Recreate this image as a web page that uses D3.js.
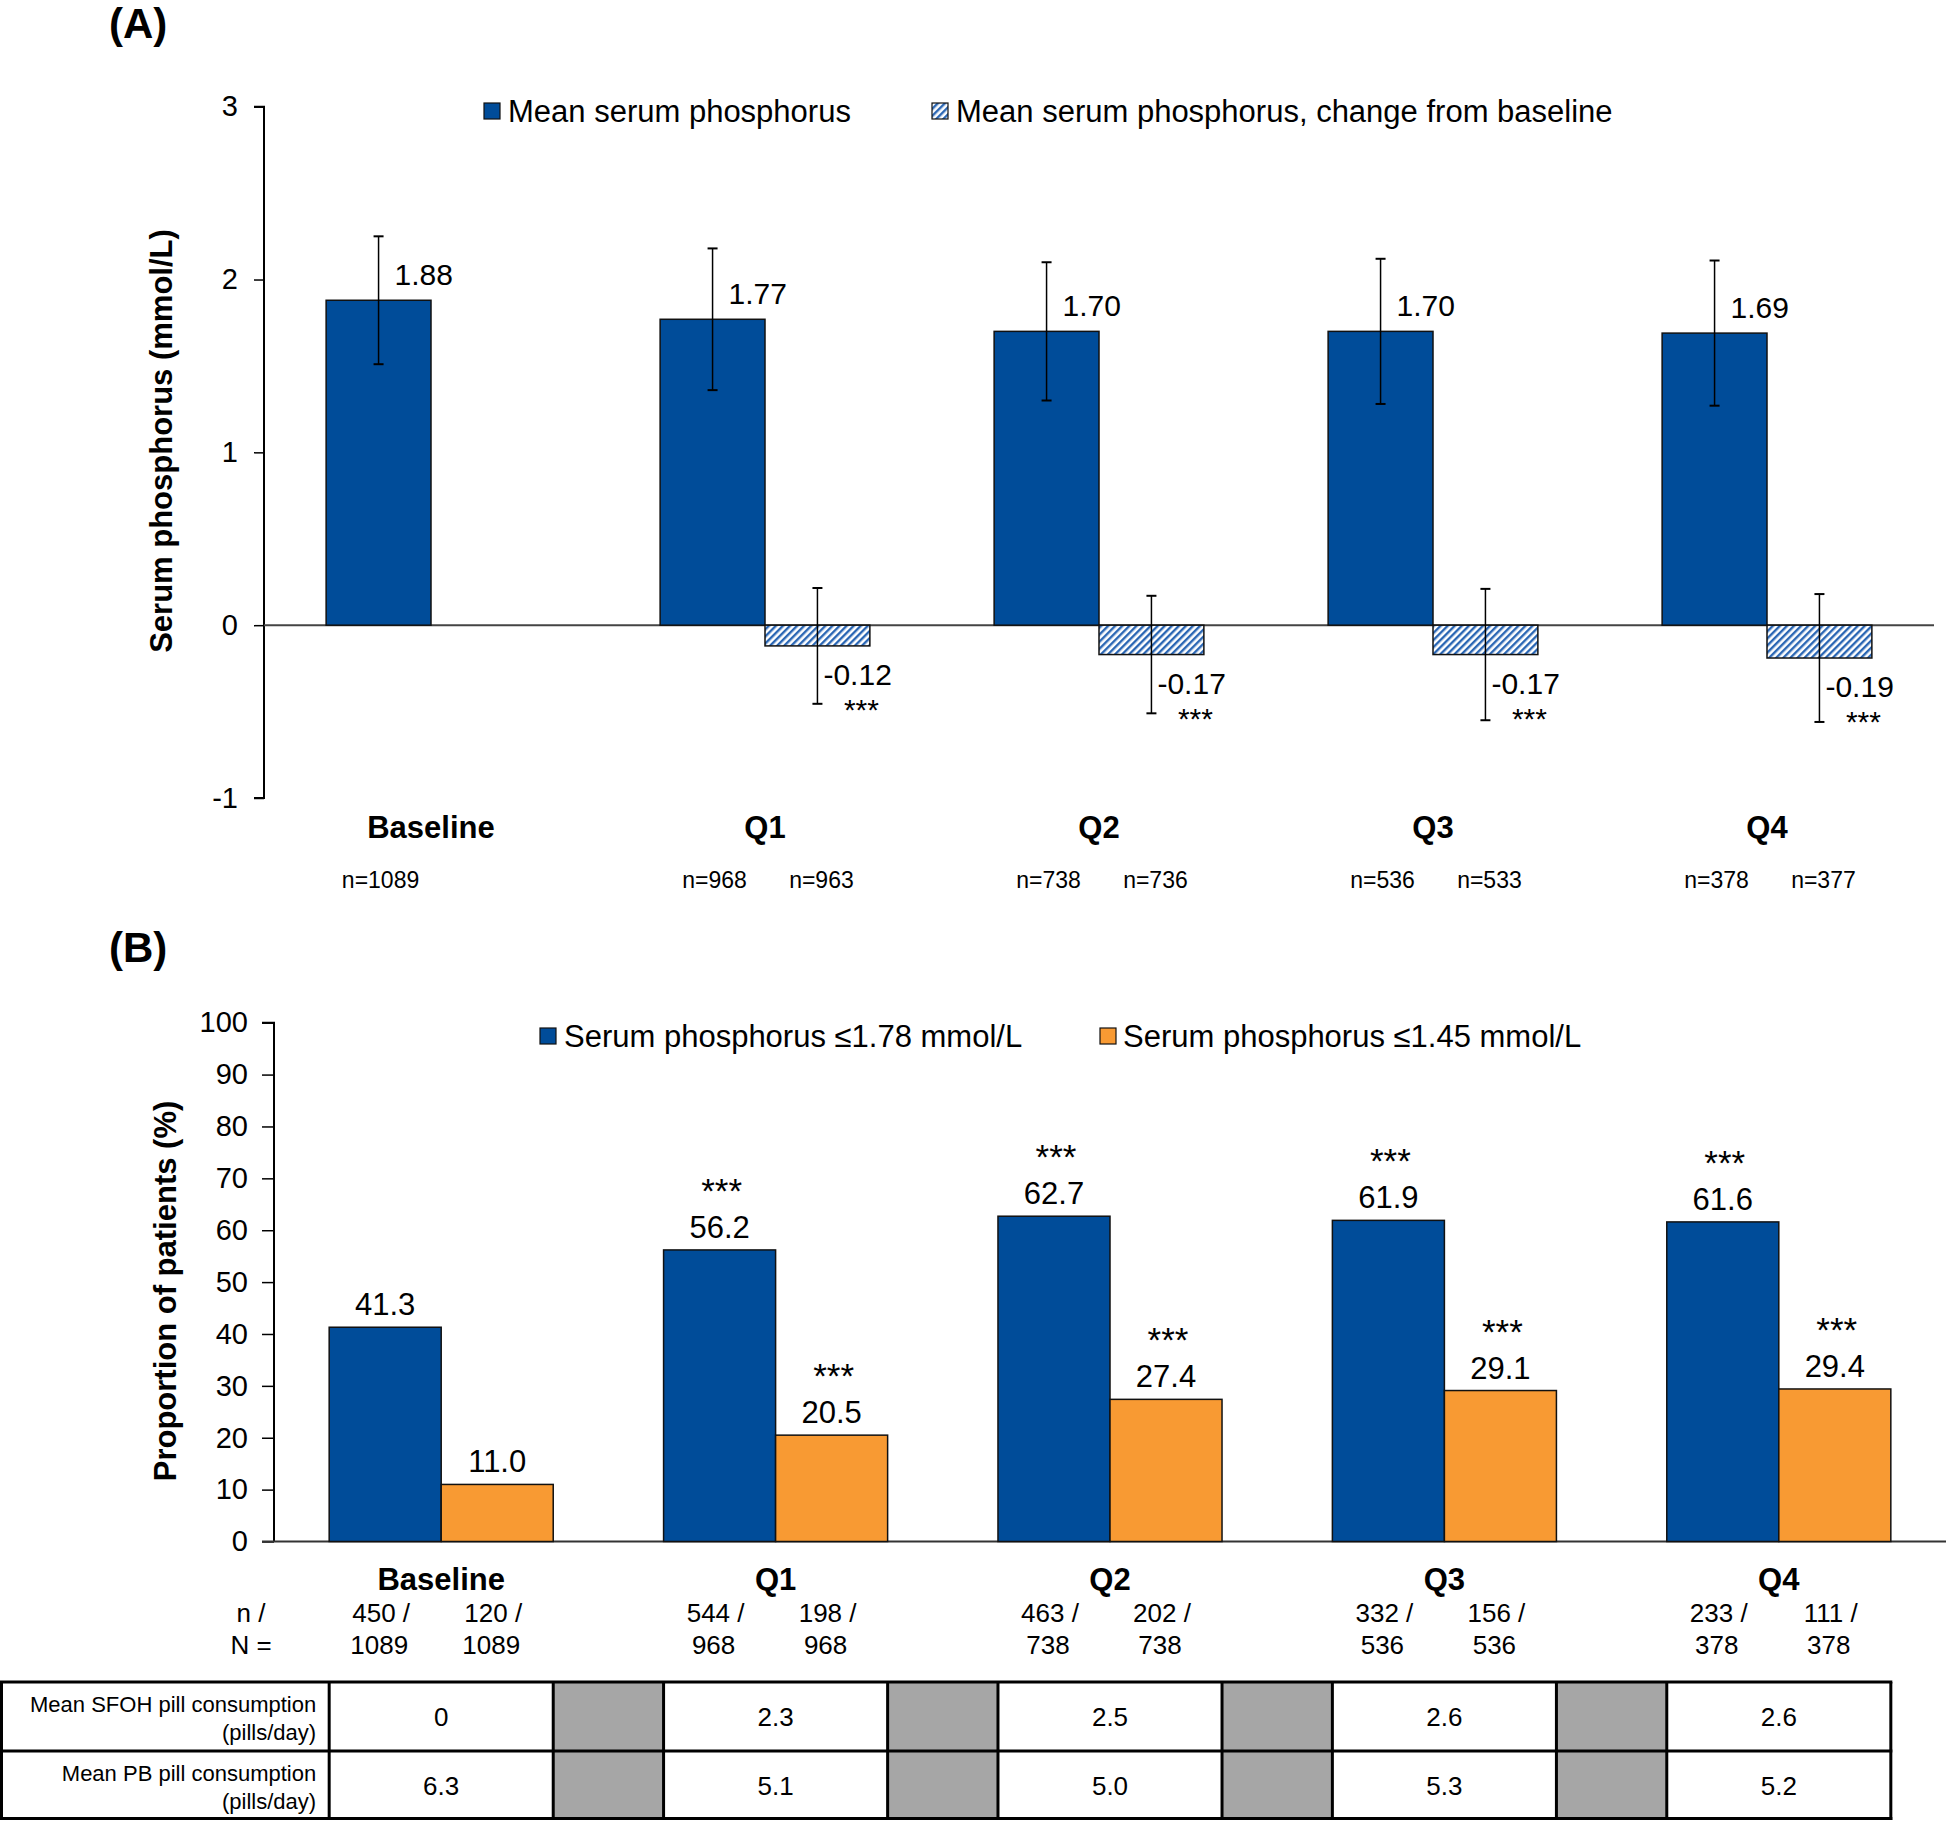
<!DOCTYPE html>
<html><head><meta charset="utf-8">
<script src="https://cdn.jsdelivr.net/npm/d3@7"></script>
<style>
html,body{margin:0;padding:0;background:#fff;}
svg{display:block;font-family:'Liberation Sans',Arial,sans-serif;}
</style></head>
<body>
<svg id="chart" width="1946" height="1822"></svg>
<script>
// ---------- DATA ----------
const categories = ["Baseline", "Q1", "Q2", "Q3", "Q4"];
// Panel A
const meanP = [1.88, 1.77, 1.70, 1.70, 1.69];
const meanPsd = [0.37, 0.41, 0.40, 0.42, 0.42];
const changeP = [null, -0.12, -0.17, -0.17, -0.19];
const changeSd = [null, 0.335, 0.34, 0.38, 0.37];
const nMean = ["n=1089", "n=968", "n=738", "n=536", "n=378"];
const nChange = [null, "n=963", "n=736", "n=533", "n=377"];
const yTicksA = [-1, 0, 1, 2, 3];
const legendA = ["Mean serum phosphorus", "Mean serum phosphorus, change from baseline"];
// Panel B
const prop178 = [41.3, 56.2, 62.7, 61.9, 61.6];
const prop145 = [11.0, 20.5, 27.4, 29.1, 29.4];
const sig178 = [false, true, true, true, true];
const sig145 = [false, true, true, true, true];
const n178 = [450, 544, 463, 332, 233];
const n145 = [120, 198, 202, 156, 111];
const Ntot = [1089, 968, 738, 536, 378];
const yTicksB = [0, 10, 20, 30, 40, 50, 60, 70, 80, 90, 100];
const legendB = ["Serum phosphorus \u22641.78 mmol/L", "Serum phosphorus \u22641.45 mmol/L"];
// Table
const tableRows = [["Mean SFOH pill consumption", "(pills/day)"], ["Mean PB pill consumption", "(pills/day)"]];
const sfoh = ["0", "2.3", "2.5", "2.6", "2.6"];
const pb = ["6.3", "5.1", "5.0", "5.3", "5.2"];

// ---------- STYLE ----------
const BLUE = "#004c99", ORANGE = "#f89a33", GRAY = "#a6a6a6";
const svg = d3.select("#chart");
const defs = svg.append("defs");
const pat = defs.append("pattern").attr("id", "hatch").attr("patternUnits", "userSpaceOnUse")
  .attr("width", 5).attr("height", 5).attr("patternTransform", "rotate(45)");
pat.append("rect").attr("width", 5).attr("height", 5).attr("fill", "#fff");
pat.append("rect").attr("width", 2.4).attr("height", 5).attr("fill", "#2a66b4");

// ================= PANEL A =================
const xA = d3.scaleBand().domain(categories).range([264, 1934]);
const bwA = xA.bandwidth();
const subA = d3.scaleBand().domain([0, 1]).range([bwA * 0.186, bwA * 0.814]);
const yA = d3.scaleLinear().domain([-1, 3]).range([798, 106.7]);

svg.append("text").attr("x", 109).attr("y", 38).attr("font-size", 42).attr("font-weight", "bold").text("(A)");

const gA = svg.append("g");
const axA = gA.append("g").attr("transform", "translate(264,0)")
  .call(d3.axisLeft(yA).tickValues(yTicksA).tickSize(10).tickPadding(16).tickFormat(d => String(d)));
axA.select(".domain").attr("stroke", "#000").attr("stroke-width", 2).attr("d", `M-10,${yA(3)}H0V${yA(-1)}H-10`);
axA.selectAll(".tick line").attr("stroke", "#000").attr("stroke-width", 1.5);
axA.selectAll(".tick text").attr("font-size", 29).attr("font-family", "'Liberation Sans',Arial,sans-serif").attr("fill", "#000");
gA.append("line").attr("x1", 264).attr("x2", 1934).attr("y1", yA(0)).attr("y2", yA(0)).attr("stroke", "#444").attr("stroke-width", 2);

gA.append("text").attr("transform", `translate(161,${441}) rotate(-90)`).attr("text-anchor", "middle")
  .attr("dy", "0.35em").attr("font-size", 31).attr("font-weight", "bold").text("Serum phosphorus (mmol/L)");

categories.forEach((c, i) => {
  const x0 = xA(c) + subA(0), w = subA.bandwidth(), cx = x0 + w / 2;
  gA.append("rect").attr("x", x0).attr("width", w).attr("y", yA(meanP[i])).attr("height", yA(0) - yA(meanP[i]))
    .attr("fill", BLUE).attr("stroke", "#111").attr("stroke-width", 1.5);
  const top = yA(meanP[i] + meanPsd[i]), bot = yA(meanP[i] - meanPsd[i]);
  gA.append("line").attr("x1", cx).attr("x2", cx).attr("y1", top).attr("y2", bot).attr("stroke", "#000").attr("stroke-width", 1.5);
  [top, bot].forEach(yy => gA.append("line").attr("x1", cx - 5).attr("x2", cx + 5).attr("y1", yy).attr("y2", yy).attr("stroke", "#000").attr("stroke-width", 2));
  gA.append("text").attr("x", cx + 16).attr("y", yA(meanP[i]) - 26).attr("dy", "0.35em").attr("font-size", 30).text(meanP[i].toFixed(2));
  gA.append("text").attr("x", cx + 2).attr("y", 880).attr("dy", "0.35em").attr("text-anchor", "middle").attr("font-size", 23).text(nMean[i]);
  if (changeP[i] !== null) {
    const x1 = xA(c) + subA(1), cx1 = x1 + w / 2;
    gA.append("rect").attr("x", x1).attr("width", w).attr("y", yA(0)).attr("height", yA(changeP[i]) - yA(0))
      .attr("fill", "url(#hatch)").attr("stroke", "#111").attr("stroke-width", 1.5);
    const t2 = yA(changeP[i] + changeSd[i]), b2 = yA(changeP[i] - changeSd[i]);
    gA.append("line").attr("x1", cx1).attr("x2", cx1).attr("y1", t2).attr("y2", b2).attr("stroke", "#000").attr("stroke-width", 1.5);
    [t2, b2].forEach(yy => gA.append("line").attr("x1", cx1 - 5).attr("x2", cx1 + 5).attr("y1", yy).attr("y2", yy).attr("stroke", "#000").attr("stroke-width", 2));
    const t = gA.append("text");
    t.append("tspan").attr("x", cx1 + 6).attr("y", yA(changeP[i]) + 39).attr("font-size", 30).text(changeP[i].toFixed(2));
    t.append("tspan").attr("x", cx1 + 6 + 38).attr("y", yA(changeP[i]) + 74).attr("text-anchor", "middle").attr("font-size", 30).text("***");
    gA.append("text").attr("x", cx1 + 4).attr("y", 880).attr("dy", "0.35em").attr("text-anchor", "middle").attr("font-size", 23).text(nChange[i]);
  }
  gA.append("text").attr("x", xA(c) + bwA / 2).attr("y", 827).attr("dy", "0.35em").attr("text-anchor", "middle")
    .attr("font-size", 31).attr("font-weight", "bold").text(c);
});

const lA = gA.append("g");
lA.append("rect").attr("x", 484).attr("y", 103).attr("width", 16).attr("height", 16).attr("fill", BLUE).attr("stroke", "#111").attr("stroke-width", 1.2);
lA.append("text").attr("x", 508).attr("y", 111).attr("dy", "0.35em").attr("font-size", 31).text(legendA[0]);
lA.append("rect").attr("x", 932).attr("y", 103).attr("width", 16).attr("height", 16).attr("fill", "url(#hatch)").attr("stroke", "#111").attr("stroke-width", 1.2);
lA.append("text").attr("x", 956).attr("y", 111).attr("dy", "0.35em").attr("font-size", 31).text(legendA[1]);

// ================= PANEL B =================
const xB = d3.scaleBand().domain(categories).range([274, 1946]);
const bwB = xB.bandwidth();
const subB = d3.scaleBand().domain([0, 1]).range([bwB * 0.165, bwB * 0.835]);
const yB = d3.scaleLinear().domain([0, 100]).range([1541.5, 1022.7]);

svg.append("text").attr("x", 109).attr("y", 962).attr("font-size", 42).attr("font-weight", "bold").text("(B)");

const gB = svg.append("g");
const axB = gB.append("g").attr("transform", "translate(274,0)")
  .call(d3.axisLeft(yB).tickValues(yTicksB).tickSize(12).tickPadding(14));
axB.select(".domain").attr("stroke", "#000").attr("stroke-width", 2).attr("d", `M-12,${yB(100)}H0V${yB(0)}`);
axB.selectAll(".tick line").attr("stroke", "#000").attr("stroke-width", 1.5);
axB.selectAll(".tick text").attr("font-size", 29).attr("font-family", "'Liberation Sans',Arial,sans-serif").attr("fill", "#000");
gB.append("line").attr("x1", 262).attr("x2", 1946).attr("y1", yB(0)).attr("y2", yB(0)).attr("stroke", "#333").attr("stroke-width", 2);

gB.append("text").attr("transform", `translate(165,${1291}) rotate(-90)`).attr("text-anchor", "middle")
  .attr("dy", "0.35em").attr("font-size", 31).attr("font-weight", "bold").text("Proportion of patients (%)");

const seriesB = [{v: prop178, s: sig178, n: n178, col: BLUE}, {v: prop145, s: sig145, n: n145, col: ORANGE}];
categories.forEach((c, i) => {
  seriesB.forEach((ser, k) => {
    const x0 = xB(c) + subB(k), w = subB.bandwidth(), cx = x0 + w / 2;
    gB.append("rect").attr("x", x0).attr("width", w).attr("y", yB(ser.v[i])).attr("height", yB(0) - yB(ser.v[i]))
      .attr("fill", ser.col).attr("stroke", "#111").attr("stroke-width", 1.5);
    const t = gB.append("text").attr("text-anchor", "middle");
    if (ser.s[i]) t.append("tspan").attr("x", cx + 2).attr("y", yB(ser.v[i]) - 47).attr("font-size", 35).text("***");
    t.append("tspan").attr("x", cx).attr("y", yB(ser.v[i]) - 12).attr("font-size", 31).text(ser.v[i].toFixed(1));
    gB.append("text").attr("x", cx - 4).attr("y", 1613).attr("dy", "0.35em").attr("text-anchor", "middle").attr("font-size", 26).text(ser.n[i] + " /");
    gB.append("text").attr("x", cx - 6).attr("y", 1645).attr("dy", "0.35em").attr("text-anchor", "middle").attr("font-size", 26).text(Ntot[i]);
  });
  gB.append("text").attr("x", xB(c) + bwB / 2).attr("y", 1579).attr("dy", "0.35em").attr("text-anchor", "middle")
    .attr("font-size", 31).attr("font-weight", "bold").text(c);
});
gB.append("text").attr("x", 251).attr("y", 1613).attr("dy", "0.35em").attr("text-anchor", "middle").attr("font-size", 26).text("n /");
gB.append("text").attr("x", 251).attr("y", 1645).attr("dy", "0.35em").attr("text-anchor", "middle").attr("font-size", 26).text("N =");

const lB = gB.append("g");
lB.append("rect").attr("x", 540).attr("y", 1028).attr("width", 16).attr("height", 16).attr("fill", BLUE).attr("stroke", "#111").attr("stroke-width", 1.2);
lB.append("text").attr("x", 564).attr("y", 1036).attr("dy", "0.35em").attr("font-size", 31).text(legendB[0]);
lB.append("rect").attr("x", 1100).attr("y", 1028).attr("width", 16).attr("height", 16).attr("fill", ORANGE).attr("stroke", "#111").attr("stroke-width", 1.2);
lB.append("text").attr("x", 1123).attr("y", 1036).attr("dy", "0.35em").attr("font-size", 31).text(legendB[1]);

// ================= TABLE =================
const tTop = 1682, tMid = 1751, tBot = 1820;
const gT = svg.append("g");
const rowsY = [[tTop, tMid], [tMid, tBot]];
const rowVals = [sfoh, pb];
const groupStart = c => xB(c) + subB(0), groupEnd = c => xB(c) + subB(1) + subB.bandwidth();
rowsY.forEach(([y0, y1], r) => {
  gT.append("rect").attr("x", 1.5).attr("y", y0).attr("width", groupStart(categories[0]) - 1.5).attr("height", y1 - y0).attr("fill", "#fff");
  gT.append("text").attr("x", groupStart(categories[0]) - 13).attr("y", y0 + 22).attr("dy", "0.35em").attr("text-anchor", "end").attr("font-size", 22).text(tableRows[r][0]);
  gT.append("text").attr("x", groupStart(categories[0]) - 13).attr("y", y0 + 50).attr("dy", "0.35em").attr("text-anchor", "end").attr("font-size", 22).text(tableRows[r][1]);
  categories.forEach((c, i) => {
    const gs = groupStart(c), ge = groupEnd(c);
    gT.append("rect").attr("x", gs).attr("y", y0).attr("width", ge - gs).attr("height", y1 - y0).attr("fill", "#fff");
    gT.append("text").attr("x", (gs + ge) / 2).attr("y", (y0 + y1) / 2).attr("dy", "0.35em").attr("text-anchor", "middle").attr("font-size", 26).text(rowVals[r][i]);
    if (i < categories.length - 1) {
      const ns = groupStart(categories[i + 1]);
      gT.append("rect").attr("x", ge).attr("y", y0).attr("width", ns - ge).attr("height", y1 - y0).attr("fill", GRAY);
    }
  });
});
const tRight = groupEnd(categories[categories.length - 1]);
[tTop, tMid, tBot - 1.5].forEach(yy => gT.append("line").attr("x1", 0).attr("x2", tRight + 1.5).attr("y1", yy).attr("y2", yy).attr("stroke", "#000").attr("stroke-width", 3));
const vx = [1.5];
categories.forEach((c) => { vx.push(groupStart(c)); vx.push(groupEnd(c)); });
vx.forEach(xx => gT.append("line").attr("x1", xx).attr("x2", xx).attr("y1", tTop).attr("y2", tBot).attr("stroke", "#000").attr("stroke-width", 3));
</script>
</body></html>
